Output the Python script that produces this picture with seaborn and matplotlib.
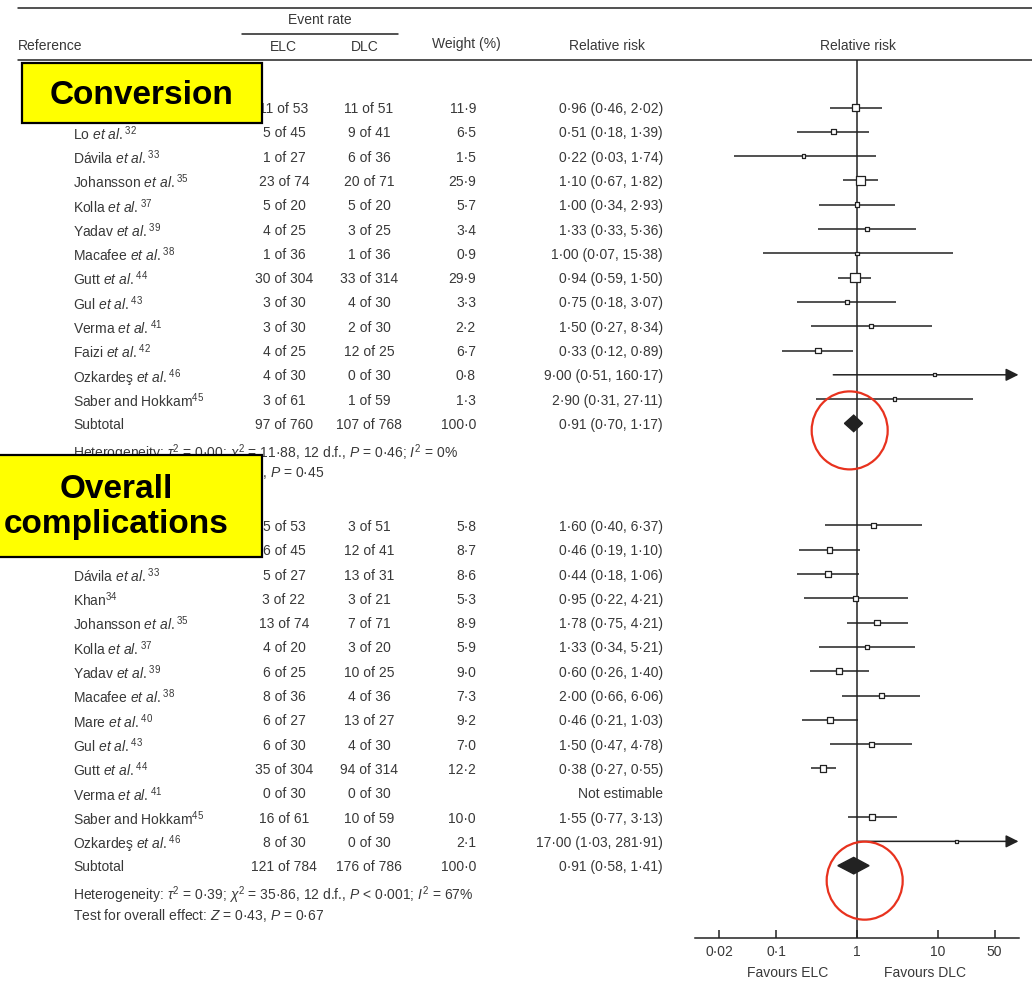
import numpy as np
import pandas as pd
import matplotlib.pyplot as plt
import matplotlib.transforms as mtransforms
from matplotlib.patches import Rectangle, Ellipse
from matplotlib.lines import Line2D
import seaborn as sns

W, H = 1032, 981

# Conversion
conv_names = ["", "Lo", "Dávila", "Johansson", "Kolla", "Yadav", "Macafee", "Gutt",
              "Gul", "Verma", "Faizi", "Ozkardeş", "Saber and Hokkam"]
conv_refs = [31, 32, 33, 35, 37, 39, 38, 44, 43, 41, 42, 46, 45]
conv_elc_e = [11, 5, 1, 23, 5, 4, 1, 30, 3, 3, 4, 4, 3]
conv_elc_n = [53, 45, 27, 74, 20, 25, 36, 304, 30, 30, 25, 30, 61]
conv_dlc_e = [11, 9, 6, 20, 5, 3, 1, 33, 4, 2, 12, 0, 1]
conv_dlc_n = [51, 41, 36, 71, 20, 25, 36, 314, 30, 30, 25, 30, 59]
conv_weight = [11.9, 6.5, 1.5, 25.9, 5.7, 3.4, 0.9, 29.9, 3.3, 2.2, 6.7, 0.8, 1.3]
conv_rr = [0.96, 0.51, 0.22, 1.10, 1.00, 1.33, 1.00, 0.94, 0.75, 1.50, 0.33, 9.00, 2.90]
conv_lo = [0.46, 0.18, 0.03, 0.67, 0.34, 0.33, 0.07, 0.59, 0.18, 0.27, 0.12, 0.51, 0.31]
conv_hi = [2.02, 1.39, 1.74, 1.82, 2.93, 5.36, 15.38, 1.50, 3.07, 8.34, 0.89, 160.17, 27.11]
conv_total = [97, 760, 107, 768, 100.0, 0.91, 0.70, 1.17]
conv_het = r"Heterogeneity: $\tau^2$ = 0·00; $\chi^2$ = 11·88, 12 d.f., $P$ = 0·46; $I^2$ = 0%"
conv_test = r"Test for overall effect: $Z$ = 0·75, $P$ = 0·45"

# Overall complications
comp_names = ["", "Lo", "Dávila", "Khan", "Johansson", "Kolla", "Yadav", "Macafee", "Mare",
              "Gul", "Gutt", "Verma", "Saber and Hokkam", "Ozkardeş"]
comp_refs = [31, 32, 33, 34, 35, 37, 39, 38, 40, 43, 44, 41, 45, 46]
comp_elc_e = [5, 6, 5, 3, 13, 4, 6, 8, 6, 6, 35, 0, 16, 8]
comp_elc_n = [53, 45, 27, 22, 74, 20, 25, 36, 27, 30, 304, 30, 61, 30]
comp_dlc_e = [3, 12, 13, 3, 7, 3, 10, 4, 13, 4, 94, 0, 10, 0]
comp_dlc_n = [51, 41, 31, 21, 71, 20, 25, 36, 27, 30, 314, 30, 59, 30]
comp_weight = [5.8, 8.7, 8.6, 5.3, 8.9, 5.9, 9.0, 7.3, 9.2, 7.0, 12.2, np.nan, 10.0, 2.1]
comp_rr = [1.60, 0.46, 0.44, 0.95, 1.78, 1.33, 0.60, 2.00, 0.46, 1.50, 0.38, np.nan, 1.55, 17.00]
comp_lo = [0.40, 0.19, 0.18, 0.22, 0.75, 0.34, 0.26, 0.66, 0.21, 0.47, 0.27, np.nan, 0.77, 1.03]
comp_hi = [6.37, 1.10, 1.06, 4.21, 4.21, 5.21, 1.40, 6.06, 1.03, 4.78, 0.55, np.nan, 3.13, 281.91]
comp_total = [121, 784, 176, 786, 100.0, 0.91, 0.58, 1.41]
comp_het = r"Heterogeneity: $\tau^2$ = 0·39; $\chi^2$ = 35·86, 12 d.f., $P$ < 0·001; $I^2$ = 67%"
comp_test = r"Test for overall effect: $Z$ = 0·43, $P$ = 0·67"

tick_vals = [0.02, 0.1, 1, 10, 50]
tick_labels = ["0·02", "0·1", "1", "10", "50"]

sns.set_theme(style="white")
plt.rcParams["font.family"] = ["Liberation Sans", "DejaVu Sans"]
plt.rcParams["mathtext.fontset"] = "custom"
plt.rcParams["mathtext.rm"] = "Liberation Sans"
plt.rcParams["mathtext.it"] = "Liberation Sans:italic"
plt.rcParams["mathtext.bf"] = "Liberation Sans:bold"

TXT = "#383838"
INK = "#222222"
FS = 10


def study_label(name, ref):
    if not name:
        return ""
    if name in ("Khan", "Saber and Hokkam"):
        return name + r"$^{%d}$" % ref
    return name + r" $\mathit{et\ al.}^{%d}$" % ref


def dot(v, fmt="{:.2f}"):
    return fmt.format(v).replace(".", "·")


def make_df(names, refs, ee, en, de, dn, w, rr, lo, hi, start):
    df = pd.DataFrame({"name": names, "ref": refs, "elc_e": ee, "elc_n": en,
                       "dlc_e": de, "dlc_n": dn, "weight": w, "rr": rr, "lo": lo, "hi": hi})
    df["row"] = start + np.arange(len(df))
    return df


ROW0, STEP = 107.5, 24.3
conv = make_df(conv_names, conv_refs, conv_elc_e, conv_elc_n, conv_dlc_e, conv_dlc_n,
               conv_weight, conv_rr, conv_lo, conv_hi, 0.0)
comp = make_df(comp_names, comp_refs, comp_elc_e, comp_elc_n, comp_dlc_e, comp_dlc_n,
               comp_weight, comp_rr, comp_lo, comp_hi, 17.2)
sections = [(conv, conv_total, conv_het, conv_test),
            (comp, comp_total, comp_het, comp_test)]

fig = plt.figure(figsize=(W / 100, H / 100), dpi=100)


def fx(px):
    return px / W


def fy(py):
    return 1 - py / H


ax = fig.add_axes([fx(695), fy(938), (1019 - 695) / W, (938 - 60) / H])
ax.set_xscale("log")

trans = mtransforms.blended_transform_factory(fig.transFigure, ax.transData)


def put(xpx, y, s, ha="left", **kw):
    ax.text(fx(xpx), y, s, transform=trans, ha=ha, va="center_baseline",
            fontsize=FS, color=TXT, clip_on=False, **kw)


all_rows = pd.concat([conv, comp], ignore_index=True)
valid = all_rows.dropna(subset=["rr"])

XMIN, XMAX = 0.01, 100
ax.set_xlim(XMIN, XMAX)
ax.set_ylim((938 - ROW0) / STEP, (60 - ROW0) / STEP)

# confidence intervals
for _, r in valid.iterrows():
    if r["hi"] > XMAX:
        ax.annotate("", xy=(XMAX * 0.985, r["row"]), xytext=(r["lo"], r["row"]),
                    arrowprops=dict(arrowstyle="-|>", color=INK, lw=1.1,
                                    mutation_scale=19, shrinkA=0, shrinkB=0),
                    annotation_clip=False)
    else:
        ax.hlines(r["row"], r["lo"], r["hi"], color=INK, lw=1.1, zorder=2)

sns.scatterplot(data=valid, x="rr", y="row", size="weight", sizes=(4, 46),
                size_norm=(0, 30), marker="s", facecolor="white", edgecolor=INK,
                linewidth=0.9, legend=False, ax=ax, zorder=3)

ax.axvline(1, color=INK, lw=1.1, zorder=1)

for df, tot, het, test in sections:
    sub_row = df["row"].iloc[-1] + 1
    for _, r in df.iterrows():
        if r["name"]:
            put(73, r["row"], study_label(r["name"], r["ref"]))
        put(284, r["row"], f"{r['elc_e']} of {r['elc_n']}", ha="center")
        put(369, r["row"], f"{r['dlc_e']} of {r['dlc_n']}", ha="center")
        if np.isnan(r["rr"]):
            put(663, r["row"], "Not estimable", ha="right")
        else:
            put(476, r["row"], dot(r["weight"], "{:.1f}"), ha="right")
            put(663, r["row"], f"{dot(r['rr'])} ({dot(r['lo'])}, {dot(r['hi'])})", ha="right")
    e1, n1, e2, n2, w, rr, lo, hi = tot
    put(73, sub_row, "Subtotal")
    put(284, sub_row, f"{e1} of {n1}", ha="center")
    put(369, sub_row, f"{e2} of {n2}", ha="center")
    put(476, sub_row, dot(w, "{:.1f}"), ha="right")
    put(663, sub_row, f"{dot(rr)} ({dot(lo)}, {dot(hi)})", ha="right")
    put(73, sub_row + 1.1, het)
    put(73, sub_row + 1.95, test)
    h = 0.34
    ax.fill([lo, rr, hi, rr], [sub_row, sub_row - h, sub_row, sub_row + h],
            color=INK, zorder=4)

# axis styling
for side in ["top", "right", "left"]:
    ax.spines[side].set_visible(False)
ax.spines["bottom"].set_color(INK)
ax.spines["bottom"].set_linewidth(1.1)
ax.set_xticks(tick_vals)
ax.set_xticklabels(tick_labels)
ax.minorticks_off()
ax.tick_params(axis="x", direction="in", length=6, width=1.1, color=INK,
               labelsize=FS, labelcolor=TXT, pad=5, bottom=True)
ax.set_yticks([])
ax.set_xlabel("")
ax.set_ylabel("")
ax.patch.set_alpha(0)

fig.text(fx(788), fy(973), "Favours ELC", ha="center", va="center", fontsize=FS, color=TXT)
fig.text(fx(925), fy(973), "Favours DLC", ha="center", va="center", fontsize=FS, color=TXT)

# header
fig.add_artist(Line2D([fx(18), 1], [fy(8), fy(8)], color=INK, lw=1.1))
fig.add_artist(Line2D([fx(18), 1], [fy(60), fy(60)], color=INK, lw=1.1))
fig.add_artist(Line2D([fx(242), fx(398)], [fy(34), fy(34)], color=INK, lw=1.1))
fig.text(fx(320), fy(20), "Event rate", ha="center", va="center", fontsize=FS, color=TXT)
fig.text(fx(18), fy(46), "Reference", ha="left", va="center", fontsize=FS, color=TXT)
fig.text(fx(283), fy(47), "ELC", ha="center", va="center", fontsize=FS, color=TXT)
fig.text(fx(365), fy(47), "DLC", ha="center", va="center", fontsize=FS, color=TXT)
fig.text(fx(466), fy(44), "Weight (%)", ha="center", va="center", fontsize=FS, color=TXT)
fig.text(fx(607), fy(46), "Relative risk", ha="center", va="center", fontsize=FS, color=TXT)
fig.text(fx(858), fy(46), "Relative risk", ha="center", va="center", fontsize=FS, color=TXT)

# yellow callout boxes
for (x0, y0, x1, y1), label, (tx, ty) in [((22, 63, 262, 123), "Conversion", (142, 95)),
                                         ((-10, 455, 262, 557), "Overall\ncomplications", (116, 507))]:
    fig.add_artist(Rectangle((fx(x0), fy(y1)), (x1 - x0) / W, (y1 - y0) / H,
                             transform=fig.transFigure, facecolor="#ffff00",
                             edgecolor="black", lw=1.6, zorder=10))
    fig.text(fx(tx), fy(ty), label, ha="center", va="center", fontsize=24,
             weight="bold", color="black", linespacing=1.2, zorder=11)

# red circles around the subtotal diamonds
inv = fig.transFigure.inverted()
for (df, tot, het, test), (dx, dy) in zip(sections, [(-4, -7), (11, -15)]):
    sub_row = df["row"].iloc[-1] + 1
    px, py = ax.transData.transform((tot[5], sub_row))
    cx, cy = inv.transform((px + dx, py + dy))
    fig.add_artist(Ellipse((cx, cy), 76 / W, 78 / H, transform=fig.transFigure,
                           fill=False, edgecolor="#e8321e", lw=1.6, zorder=12))

fig.savefig("out.png", dpi=100)
